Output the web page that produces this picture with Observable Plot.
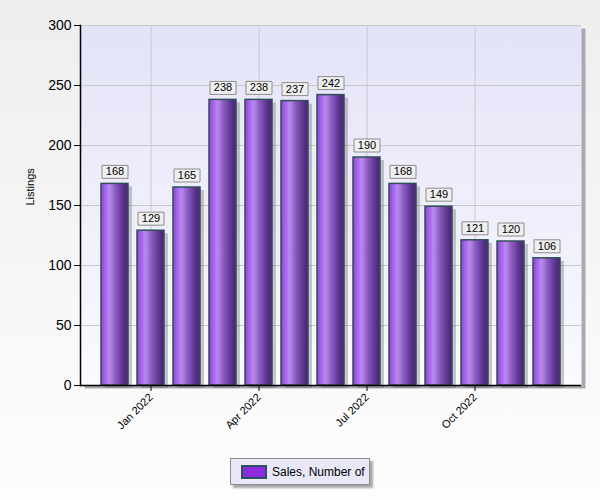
<!DOCTYPE html>
<html><head><meta charset="utf-8">
<script src="https://cdn.jsdelivr.net/npm/d3@7"></script>
<script src="https://cdn.jsdelivr.net/npm/@observablehq/plot@0.6"></script>
<style>
html,body{margin:0;padding:0;}
body{width:600px;height:500px;background:linear-gradient(#eeeeee,#fdfdfd);font-family:"Liberation Sans",Arial,sans-serif;position:relative;overflow:hidden;}
#chart svg{background:transparent;display:block;}
#legend{position:absolute;left:230px;top:458px;width:138px;height:25px;background:#e8e8f8;border:1px solid #8c8c8c;box-shadow:3px 3px 2px #a8a8a8;font-size:12px;display:flex;align-items:center;}
#legend .sw{width:22px;height:10px;background:#8a2be2;border:2px solid #2f4f5f;margin-left:10px;margin-right:5px;}
</style></head>
<body>
<div id="chart"></div>
<div id="legend"><div class="sw"></div><span>Sales, Number of</span></div>
<script>
const months = ["2021-12","2022-01","2022-02","2022-03","2022-04","2022-05","2022-06","2022-07","2022-08","2022-09","2022-10","2022-11","2022-12"];
const sales = [168,129,165,238,238,237,242,190,168,149,121,120,106];
const tickMonths = ["2022-01","2022-04","2022-07","2022-10"];
const tickLabels = ["Jan 2022","Apr 2022","Jul 2022","Oct 2022"];
const yTicks = [0,50,100,150,200,250,300];
const seriesName = "Sales, Number of";
const yLabel = "Listings";

const data = months.map((m,i)=>({month:m, value:sales[i]}));
const labelOf = new Map(tickMonths.map((m,i)=>[m,tickLabels[i]]));

const boxSymbol = {draw(ctx){ ctx.rect(-13,-6.5,26,13); }};

const plot = Plot.plot({
  width:600, height:450,
  marginTop:25, marginBottom:65, marginLeft:80, marginRight:19,
  style:{background:"transparent", fontFamily:"'Liberation Sans',Arial,sans-serif", overflow:"visible"},
  x:{type:"band", domain:months, range:[100,561], paddingInner:0.25, paddingOuter:0, label:null},
  y:{domain:[0,300], label:null},
  marks:[
    Plot.frame({fill:"#a9a9b0", dx:4, dy:3, stroke:null}),
    Plot.frame({fill:"url(#bgGrad)", stroke:null}),
    Plot.gridY(yTicks, {stroke:"#c8c8cc", strokeOpacity:1}),
    Plot.gridX(tickMonths, {stroke:"#c8c8cc", strokeOpacity:1}),
    Plot.barY(data, {x:"month", y:"value", fill:"#666", fillOpacity:0.35, dx:4, dy:3}),
    Plot.barY(data, {x:"month", y:"value", fill:"url(#barGrad)", stroke:"#2f4f55", strokeWidth:1.5}),
    Plot.dot(data, {x:"month", y:"value", symbol:boxSymbol, r:5, dy:-12, fill:"#efefef", stroke:"#8c8c8c", strokeWidth:1}),
    Plot.text(data, {x:"month", y:"value", text:d=>String(d.value), dy:-12, fontSize:11, fill:"#000"}),
    Plot.ruleY([0], {stroke:"#000", strokeWidth:1.5}),
    Plot.frame({anchor:"left", stroke:"#000", strokeWidth:1.5}),
    Plot.axisY(yTicks, {tickSize:6, fontSize:14, tickPadding:3, stroke:"#000", label:null}),
    Plot.axisX(tickMonths, {tickSize:6, tickRotate:-45, fontSize:11, tickFormat:d=>labelOf.get(d), stroke:"#000", textAnchor:"end", tickPadding:4, label:null}),
    Plot.text([yLabel], {frameAnchor:"left", dx:-50, rotate:-90, fontSize:11, fill:"#000"})
  ]
});

const defs = d3.create("svg:defs");
const bg = defs.append("linearGradient").attr("id","bgGrad").attr("x1",0).attr("y1",0).attr("x2",0).attr("y2",1);
bg.append("stop").attr("offset","0%").attr("stop-color","#e3e3f8");
bg.append("stop").attr("offset","100%").attr("stop-color","#fafaff");
const bar = defs.append("linearGradient").attr("id","barGrad").attr("x1",0).attr("y1",0).attr("x2",1).attr("y2",0);
[["0%","#8f3fe0"],["12%","#a35ce8"],["32%","#b98aec"],["55%","#8a58c0"],["80%","#5e3590"],["100%","#48256e"]]
  .forEach(([o,c])=>bar.append("stop").attr("offset",o).attr("stop-color",c));
plot.insertBefore(defs.node(), plot.firstChild);
document.getElementById("chart").appendChild(plot);
</script>
</body></html>
